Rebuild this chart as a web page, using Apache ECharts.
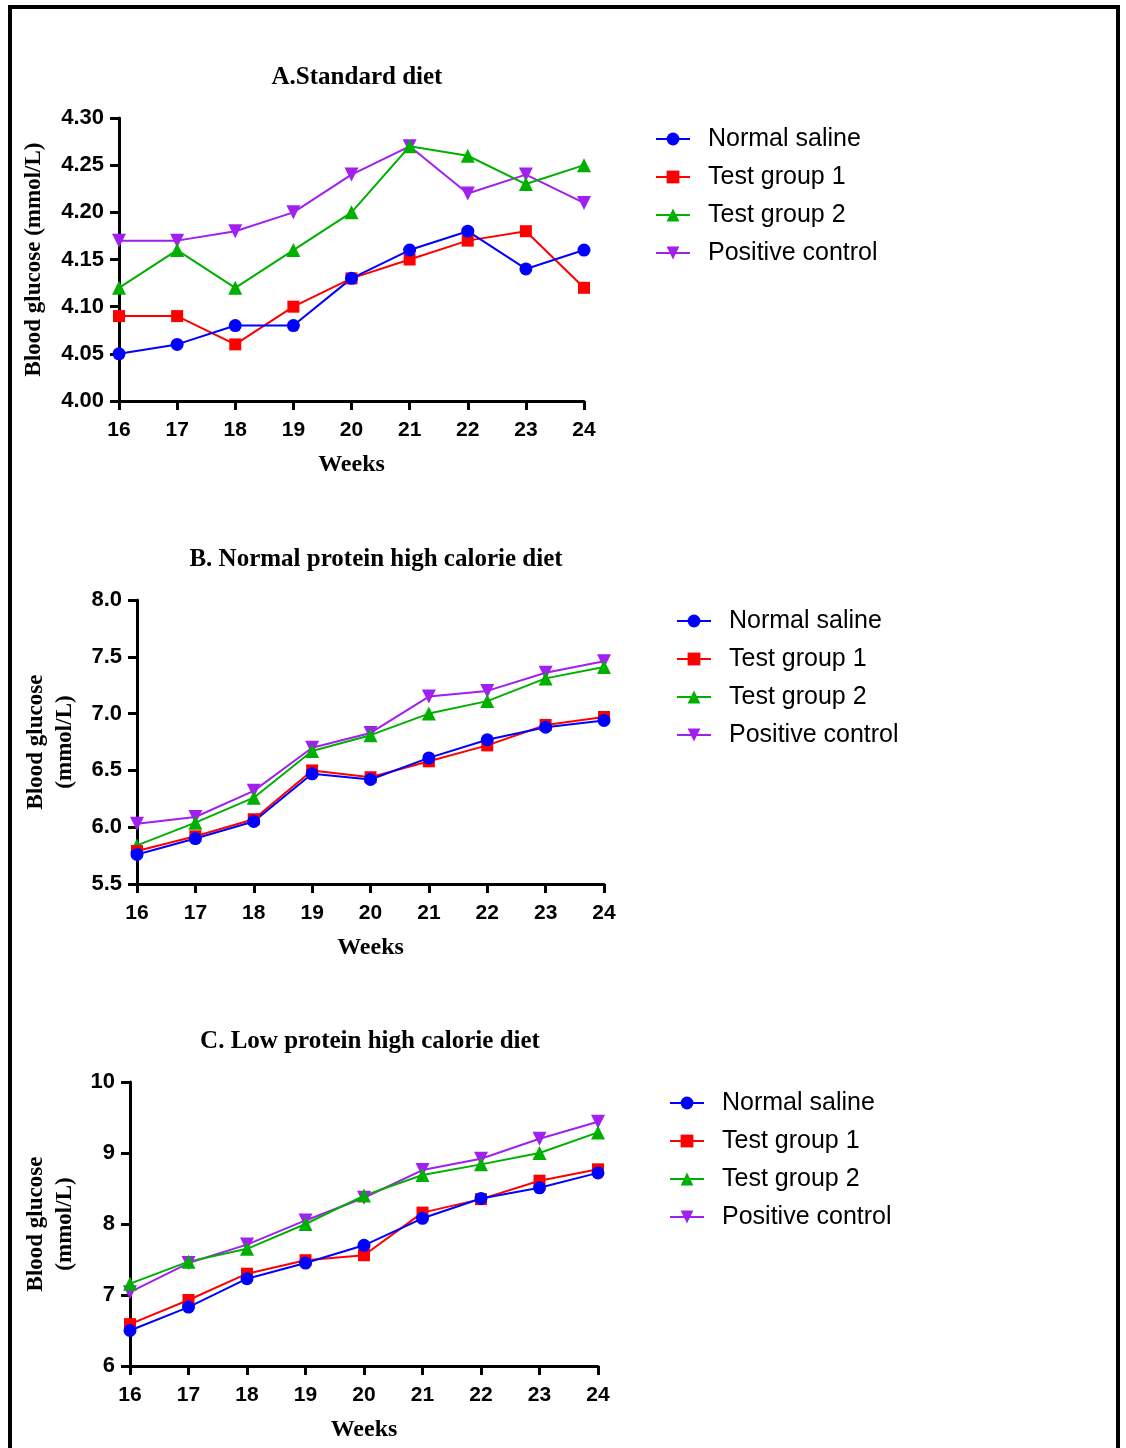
<!DOCTYPE html>
<html><head><meta charset="utf-8">
<script src="https://cdn.jsdelivr.net/npm/echarts@6/dist/echarts.min.js"></script>
<style>html,body{margin:0;padding:0;background:#fff}#c{width:1126px;height:1448px}</style>
</head><body><div id="c"></div>
<script>
const weeks = ['16','17','18','19','20','21','22','23','24'];
const groupNames = ['Normal saline','Test group 1','Test group 2','Positive control'];
const panelTitles = ['A.Standard diet','B. Normal protein high calorie diet','C. Low protein high calorie diet'];
const yAxisNames = ['Blood glucose (mmol/L)','Blood glucose\n(mmol/L)','Blood glucose\n(mmol/L)'];
const xAxisName = 'Weeks';

// A. Standard diet
const aNormalSaline   = [4.05, 4.06, 4.08, 4.08, 4.13, 4.16, 4.18, 4.14, 4.16];
const aTestGroup1     = [4.09, 4.09, 4.06, 4.10, 4.13, 4.15, 4.17, 4.18, 4.12];
const aTestGroup2     = [4.12, 4.16, 4.12, 4.16, 4.20, 4.27, 4.26, 4.23, 4.25];
const aPositiveCtrl   = [4.17, 4.17, 4.18, 4.20, 4.24, 4.27, 4.22, 4.24, 4.21];
// B. Normal protein high calorie diet
const bNormalSaline   = [5.76, 5.90, 6.05, 6.47, 6.42, 6.61, 6.77, 6.88, 6.94];
const bTestGroup1     = [5.79, 5.92, 6.07, 6.50, 6.44, 6.58, 6.72, 6.90, 6.97];
const bTestGroup2     = [5.84, 6.04, 6.26, 6.67, 6.81, 7.00, 7.11, 7.31, 7.41];
const bPositiveCtrl   = [6.03, 6.09, 6.32, 6.70, 6.83, 7.15, 7.20, 7.36, 7.46];
// C. Low protein high calorie diet
const cNormalSaline   = [6.50, 6.83, 7.23, 7.45, 7.70, 8.08, 8.36, 8.51, 8.72];
const cTestGroup1     = [6.59, 6.93, 7.30, 7.49, 7.56, 8.16, 8.35, 8.61, 8.77];
const cTestGroup2     = [7.16, 7.47, 7.65, 8.00, 8.40, 8.69, 8.84, 9.00, 9.29];
const cPositiveCtrl   = [7.04, 7.45, 7.71, 8.05, 8.37, 8.76, 8.92, 9.20, 9.44];

// y-axis ticks: [min, max, step]
const aTicks = [4.00, 4.30, 0.05];
const bTicks = [5.5, 8.0, 0.5];
const cTicks = [6, 10, 1];

const panelData = [
  [aNormalSaline, aTestGroup1, aTestGroup2, aPositiveCtrl],
  [bNormalSaline, bTestGroup1, bTestGroup2, bPositiveCtrl],
  [cNormalSaline, cTestGroup1, cTestGroup2, cPositiveCtrl]
];
const panelTicks = [aTicks, bTicks, cTicks];
const decimals = [2, 1, 0];

const colors = ['#0000FF', '#FF0000', '#00B000', '#A020F0'];
const symbols = ['circle', 'rect', 'triangle', 'triangle'];
const symRot = [0, 0, 0, 180];
const symSize = [13, 12, 14, 14];

const layout = [
  {left: 119, top: 118, width: 465, height: 283, titleX: 352, titleY: 60, nameGap: 70, legLeft: 650, legTop: 121},
  {left: 137, top: 600, width: 467, height: 284, titleX: 371, titleY: 542, nameGap: 57, legLeft: 671, legTop: 603},
  {left: 130, top: 1082, width: 468, height: 284, titleX: 365, titleY: 1024, nameGap: 50, legLeft: 664, legTop: 1085}
];

const SANS = 'Liberation Sans';
const SERIF = 'Liberation Serif';

const grid = [], xAxis = [], yAxis = [], series = [], title = [], legend = [];
layout.forEach((L, p) => {
  grid.push({left: L.left, top: L.top, width: L.width, height: L.height, containLabel: false});
  title.push({text: panelTitles[p], left: L.titleX, top: L.titleY, textAlign: 'center',
    textStyle: {fontFamily: SERIF, fontWeight: 'bold', fontSize: 25, color: '#000'}});
  xAxis.push({
    type: 'category', gridIndex: p, data: weeks, boundaryGap: false,
    name: xAxisName, nameLocation: 'middle', nameGap: 52,
    nameTextStyle: {fontFamily: SERIF, fontWeight: 'bold', fontSize: 24, color: '#000'},
    axisLine: {lineStyle: {color: '#000', width: 3}},
    axisTick: {show: true, length: 9, lineStyle: {color: '#000', width: 3}, interval: 0},
    axisLabel: {interval: 0, margin: 19, fontFamily: SANS, fontWeight: 'bold', fontSize: 21, color: '#000'},
    splitLine: {show: false}
  });
  const t = panelTicks[p];
  yAxis.push({
    type: 'value', gridIndex: p, min: t[0], max: t[1], interval: t[2],
    name: yAxisNames[p], nameLocation: 'middle', nameRotate: 90, nameGap: L.nameGap,
    nameTextStyle: {fontFamily: SERIF, fontWeight: 'bold', fontSize: 23, color: '#000', lineHeight: 29},
    axisLine: {show: true, lineStyle: {color: '#000', width: 3}},
    axisTick: {show: true, length: 9, lineStyle: {color: '#000', width: 3}},
    axisLabel: {margin: 15, fontFamily: SANS, fontWeight: 'bold', fontSize: 22, color: '#000',
      formatter: v => v.toFixed(decimals[p])},
    splitLine: {show: false}
  });
  legend.push({
    data: groupNames.slice(), orient: 'vertical', left: L.legLeft, top: L.legTop,
    itemWidth: 34, itemHeight: 16, itemGap: 12, selectedMode: false,
    textStyle: {fontFamily: SANS, fontSize: 25, color: '#000', lineHeight: 26, padding: [0, 0, 0, 13]}
  });
  // draw order: positive control at back, normal saline on top
  [3, 2, 1, 0].forEach(g => {
    series.push({
      name: groupNames[g], type: 'line', xAxisIndex: p, yAxisIndex: p,
      data: panelData[p][g], color: colors[g],
      symbol: symbols[g], symbolRotate: symRot[g], symbolSize: symSize[g],
      showAllSymbol: true,
      lineStyle: {width: 2, color: colors[g]},
      itemStyle: {color: colors[g]},
      emphasis: {disabled: true}, animation: false
    });
  });
});

const chart = echarts.init(document.getElementById('c'), null, {renderer: 'canvas'});
chart.setOption({
  backgroundColor: '#fff', animation: false,
  title, grid, xAxis, yAxis, legend, series,
  graphic: [{type: 'rect', shape: {x: 10, y: 7, width: 1108, height: 1470},
    style: {fill: 'none', stroke: '#000', lineWidth: 4}, silent: true}]
});
</script></body></html>
